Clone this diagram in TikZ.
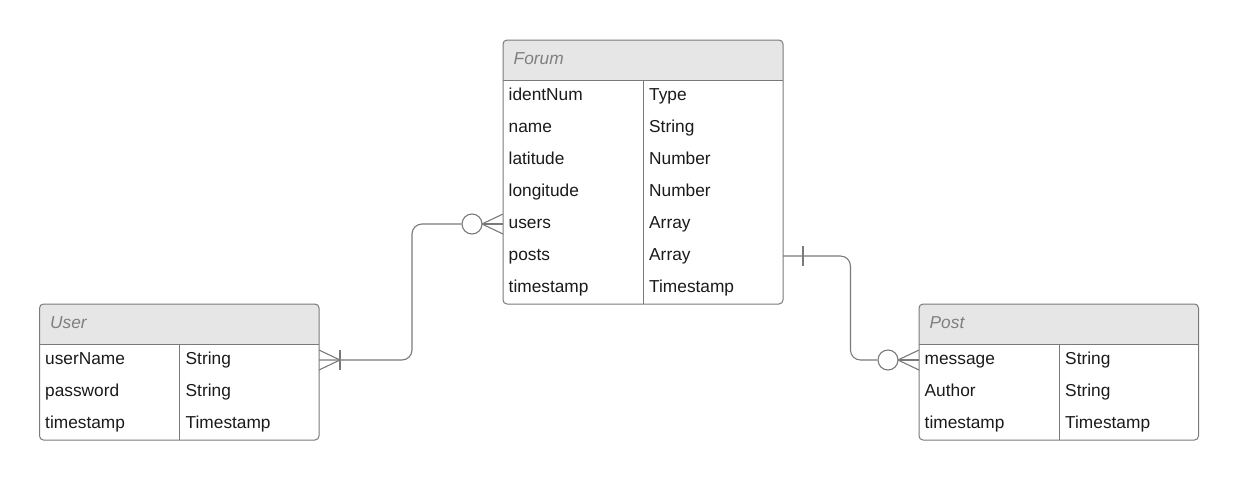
\documentclass[tikz,border=0pt]{standalone}
\usepackage{fontspec}
\setmainfont{Liberation Sans}
\usetikzlibrary{calc}
\definecolor{framegray}{HTML}{7A7A7A}
\definecolor{headfill}{HTML}{E6E6E6}
\definecolor{titlegray}{HTML}{7F7F7F}
\definecolor{textblack}{HTML}{1A1A1A}
\tikzset{
  frame/.style={draw=framegray, line width=1pt},
  conn/.style={draw=framegray, line width=1.1pt},
  tbl/.style={anchor=north west, inner sep=0pt, outer sep=0pt, rectangle},
  celltext/.style={inner sep=0pt, anchor=base west, text=textblack, font=\fontsize{17.3}{20}\selectfont},
  titletext/.style={inner sep=0pt, anchor=base west, text=titlegray, font=\fontsize{17.3}{20}\selectfont\itshape},
  circ/.style={circle, draw=framegray, line width=1.1pt, fill=white, minimum size=20pt, inner sep=0pt},
}
% #1 name, #2 x0, #3 y0, #4 x1, #5 divider x, #6 title, #7 rows, #8 row count
\newcommand{\ertable}[8]{%
  \pgfmathsetmacro\ertW{#4-#2}%
  \pgfmathsetmacro\ertH{40+32*#8}%
  \path node[tbl, minimum width=\ertW pt, minimum height=\ertH pt] (#1) at (#2,#3) {};
  \begin{scope}
    \clip[rounded corners=4pt] (#1.north west) rectangle (#1.south east);
    \fill[headfill] (#1.north west) rectangle ($(#1.north east)+(0,40)$);
  \end{scope}
  \draw[frame, rounded corners=4pt] (#1.north west) rectangle (#1.south east);
  \draw[frame] ($(#1.north west)+(0,40)$) -- ($(#1.north east)+(0,40)$);
  \draw[frame] (#5,#3+40) -- (#5,#3+\ertH);
  \node[titletext] (#1-title) at (#2+10.5,#3+24) {#6};
  \foreach \f/\t [count=\i] in {#7} {
    \node[celltext] (#1-f\i) at (#2+5.5,#3+28+32*\i) {\f};
    \node[celltext] (#1-t\i) at (#5+6,#3+28+32*\i) {\t};
  }
}
\begin{document}
\begin{tikzpicture}[x=1pt,y=-1pt]
\useasboundingbox (0,0) rectangle (1240,480);

\ertable{forum}{503}{40}{783}{643}{Forum}{identNum/Type,name/String,latitude/Number,longitude/Number,users/Array,posts/Array,timestamp/Timestamp}{7}
\ertable{user}{39.5}{304}{319}{179.5}{User}{userName/String,password/String,timestamp/Timestamp}{3}
\ertable{post}{919}{304}{1198.5}{1059}{Post}{message/String,Author/String,timestamp/Timestamp}{3}

% ports
\coordinate (fu) at (forum.north west |- 0,224);
\coordinate (fp) at (forum.north east |- 0,256);
\coordinate (un) at (user.north east |- 0,360);
\coordinate (pm) at (post.north west |- 0,360);

% Forum.users (zero or many)  --  User.userName (one or many)
\draw[conn] ($(fu)+(0,-10)$) -- ($(fu)+(-21,0)$) -- ($(fu)+(0,10)$);
\draw[conn] (fu) -- ($(fu)+(-21,0)$);
\node[circ] (c1) at ($(fu)+(-31,0)$) {};
\draw[conn, rounded corners=10pt] (c1.west) -| ($(un)+(93,0)$) -- (un);
\draw[conn] ($(un)+(0,-10)$) -- ($(un)+(21,0)$) -- ($(un)+(0,10)$);
\draw[conn] ($(un)+(21,-10)$) -- ($(un)+(21,10)$);

% Forum.posts (one)  --  Post.message (zero or many)
\draw[conn] ($(fp)+(20,-10)$) -- ($(fp)+(20,10)$);
\draw[conn] ($(pm)+(0,-10)$) -- ($(pm)+(-21,0)$) -- ($(pm)+(0,10)$);
\draw[conn] (pm) -- ($(pm)+(-21,0)$);
\node[circ] (c2) at ($(pm)+(-31,0)$) {};
\draw[conn, rounded corners=10pt] (fp) -| ($(c2.west)+(-27,0)$) -- (c2.west);
\end{tikzpicture}
\end{document}
